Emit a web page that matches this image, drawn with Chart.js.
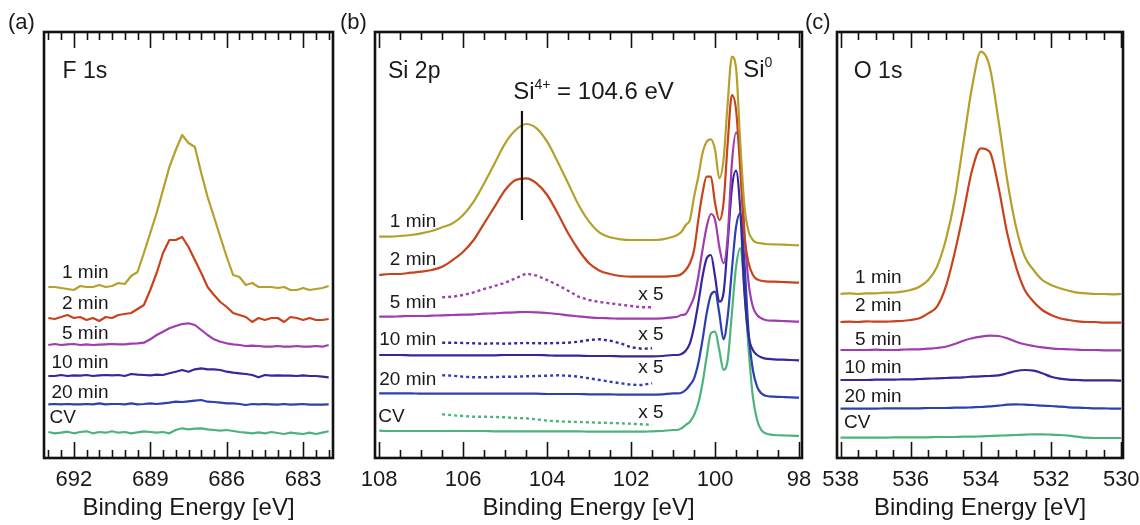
<!DOCTYPE html>
<html>
<head>
<meta charset="utf-8">
<script src="https://cdn.jsdelivr.net/npm/chart.js@4.4.1/dist/chart.umd.min.js"></script>
<style>
  html, body { margin: 0; padding: 0; background: #fff; }
  #wrap { position: relative; width: 1140px; height: 525px; overflow: hidden; }
  canvas { position: absolute; top: 0; }
</style>
</head>
<body>
<div id="wrap">
  <canvas id="panelF" width="340" height="525" style="left:0px"></canvas>
  <canvas id="panelSi" width="486" height="525" style="left:336px"></canvas>
  <canvas id="panelO" width="340" height="525" style="left:800px"></canvas>
</div>
<script>
// series names and colours (top to bottom)
const seriesNames = ['1 min', '2 min', '5 min', '10 min', '20 min', 'CV'];
const seriesColors = ['#b4a02a', '#c8421c', '#a03cb0', '#35289a', '#2d40b0', '#4cb47a'];

// ---- (a) F 1s ----
const fEnergy = [693,692.75,692.5,692.25,692,691.75,691.5,691.25,691,690.75,690.5,690.25,690,689.75,689.5,689.25,689,688.75,688.5,688.25,688,687.75,687.5,687.25,687,686.75,686.5,686.25,686,685.75,685.5,685.25,685,684.75,684.5,684.25,684,683.75,683.5,683.25,683,682.75,682.5,682.25,682];
const f1min = [171,171,170,169,168,172,171,171,173,171,172,175,174,182,186,205,225,245,268,291,308,323,315,311,285,261,241,221,201,183,181,173,175,171,171,171,170,171,168,168,170,168,169,170,172];
const f2min = [140,139,141,143,140,141,138,140,137,141,140,143,144,145,149,153,168,185,205,218,218,221,211,198,185,171,163,156,151,145,143,141,136,140,138,140,140,136,141,140,138,140,138,138,139];
const f5min = [113,114,113,113.7,114,113,113.7,113,113.3,113.7,114,113.7,113.7,114.3,114.7,115.3,118.7,123,126.3,129.7,132,134,134.7,133,128,123,118.7,116.3,114.7,113.7,113,112,112.3,112,111.3,111.3,112,111.3,111.3,112,111.3,111.3,112,111.3,113];
const f10min = [82,82,83,82,82.7,82.3,83,82,82.7,83,82.7,83,82,84,83.3,83,82.7,83.3,83,84.7,86.3,88,86.3,88.7,89.7,88.7,88.7,88,86.3,85.3,84.7,84,83,80.7,83,82.3,82.7,82.3,82.3,82,82.7,82,82,81.3,80.7];
const f20min = [53.7,54,53.7,54,53.7,53.7,54,53.7,54.7,53.7,54,54,53.7,54.7,53.7,54,54.7,54,54.7,55.3,56.3,56,56.7,57.3,58,56.3,56,55.3,54.7,54.7,54,53,54,53.7,54,53.7,53.3,54,53.3,53.7,54,53.3,53.3,53.3,53.7];
const fCV = [26,24.7,25.3,26.3,24.7,26,26.7,24.7,26,25.3,26.7,25.3,26,24.7,25.7,26.7,26,25.3,26,24.7,28,29.7,28.7,29.3,29.7,28.7,28,27.3,28,27,26,25.3,24.7,25.7,24.7,26,25,24,25.3,24.7,24,25.3,24,25.3,26.7];
const fTicks = [692, 689, 686, 683];

// ---- (b) Si 2p ----
const siEnergy = [108,107.75,107.5,107.25,107,106.75,106.5,106.25,106,105.75,105.5,105.25,105,104.75,104.5,104.25,104,103.75,103.5,103.25,103,102.75,102.5,102.25,102,101.75,101.5,101.25,101,
  100.9,100.8,100.7,100.6,100.5,100.4,100.3,100.2,100.1,100.0,99.9,99.8,99.7,99.6,99.5,99.4,99.3,99.2,99.1,99.0,98.9,98.8,
  98.6,98.4,98.2,98.0];
const si1min = [221.3,221.3,222,223,224.7,227,230.7,234.7,243,256.3,274.7,294.7,314.7,328,334,329.7,316.3,296.3,274.7,253,236.3,225.3,220.7,218.7,218,218,218,218.7,221.3,
  223,226.3,233,238,261.3,281.3,304.7,316.3,318.7,308,279.7,298,354.7,401.3,389.7,314.7,251.3,226.3,218,215.3,214.7,214,
  213.7,213.3,213,212.7];
const si2min = [183,184,184,185.3,186.3,188,191.3,198,206.3,218,234.7,251.3,268,278,279.7,274.7,263,244.7,224.7,208,194.7,187.3,184,182,181.3,181.3,181.3,181.3,182,
  182.3,184,188,194.7,208,238,264.7,281.3,281.3,254.7,238,254.7,314.7,363,348,288,221.3,194.7,183,178.7,177.3,176.7,
  176.3,176,175.7,175.3];
const si5min = [141.3,141.3,141.7,142,142,142.3,142.7,143,143.3,143.7,144.3,144.7,145.3,145.7,146,145.7,145,144,142.7,141.7,140.7,140,139.7,139.3,139.3,139.3,139.3,139.7,140.7,
  141.3,143,144,151.3,161.3,181.3,208,231.3,244,238,211.3,194.7,221.3,294.7,325.3,304.7,224.7,174.7,151.3,143,139.7,138,
  137.3,137,136.7,136.3];
const si10min = [103,103,103,102.7,102.7,102.7,102.7,102.7,102.7,102.7,102.7,102.7,103,103,103,103,102.7,102.3,102.3,102.3,102,102,102,101.7,101.7,101.7,101.7,102,103,
  103,104,107.3,114.7,131.3,154.7,181.3,199.7,203,181.3,156.3,164.7,214.7,269.7,287.3,248,164.7,121.3,108,103,100.7,99.3,
  98.7,98.3,98,97.7];
const si20min = [64.7,64.7,64.7,64.7,64.3,64.3,64.3,64.3,64.3,64.3,64.3,64.3,64.3,64.3,64.3,64.3,64,64,64,64,63.7,63.7,63.7,63.3,63.3,63.3,63.3,63.7,64.7,
  64.7,65.3,68,73,79.7,94.7,118,144.7,163,166.3,144.7,118.7,141.3,188,231.3,244.7,194.7,124.7,88,71.3,64.7,62.3,
  61.3,61,60.7,60.3];
const siCV = [27.3,27,27,27,27,27,27,27,27,27,27,26.7,26.7,26.7,26.7,26.7,26.7,26.7,26.7,26.7,26.3,26.3,26.3,26.3,26.3,26.3,26.7,27,28,
  28,29.7,33,36.3,43,54.7,74.7,101.3,124.7,126.3,108,88,98,144.7,191.3,209.7,168,108,61.3,38,28,24.7,
  23,22.7,22.3,22];
// x5 magnified traces of the Si4+ region
const x5Energy = [106.5,106.25,106,105.75,105.5,105.25,105,104.75,104.5,104.25,104,103.75,103.5,103.25,103,102.75,102.5,102.25,102,101.75,101.5];
const x5of5min = [160.7,161.3,163,165.7,169,172,175.3,179.7,184.5,182.3,178,173,167.3,161.3,158,156,154.7,153.3,152,150.7,150.7];
const x5of10min = [115.3,115.3,115,114.7,114.3,114.7,114.3,114.7,115,114.7,114.7,115,115.3,116.3,118,118.7,117.3,114.7,110.7,109.3,109.7];
const x5of20min = [82.7,82.3,81.3,80.7,80.7,81,81.3,81.3,81.7,82,82.3,82.7,82.3,81.3,79.7,78,76.3,74.7,73.3,73,74.7];
const x5ofCV = [43.7,42.7,42,41.3,41.3,41,40.7,40,39.7,38.7,37.3,36.7,36.3,36,35.7,35.3,35,34.7,34.3,33.7,33.3];
const siTicks = [108, 106, 104, 102, 100, 98];
const si4Energy = 104.6;

// ---- (c) O 1s ----
const oEnergy = [538,537.75,537.5,537.25,537,536.75,536.5,536.25,536,535.75,535.5,535.25,535,534.75,534.5,534.25,534,533.75,533.5,533.25,533,532.75,532.5,532.25,532,531.75,531.5,531.25,531,530.75,530.5,530.25,530];
const o1min = [164,164.7,164,164.7,164.7,165.3,165.3,166.3,168,171.3,178,191.3,218,258,314.7,371.3,406.3,391.3,338,278,231.3,201.3,188,178,173,169.7,167.3,165.3,164.7,164,164,163.7,164];
const o2min = [136,136.3,136,136.7,136.3,136.3,136.7,137,138,139.7,144.7,151.3,171.3,204.7,244.7,288,309.7,306.3,271.3,224.7,191.3,168,156.3,148,143,139.7,138,136.7,136,136,135.3,135.3,135.3];
const o5min = [108,108,108,108,108.3,108,108,108.3,108.7,108.7,109.3,110,111.3,114,117.3,119.7,121.3,122.3,122,119.7,116.3,113.7,112,110.7,109.7,109,108.7,108.3,108,108,107.7,107.7,107.7];
const o10min = [78,78,78,78,78.3,78.3,78.3,78.7,78.7,79,79.3,79.7,80,80.3,80.7,81.3,81.7,82,82.7,84.7,87,88,87.3,84.7,81.3,79.3,78.3,78,77.7,77.7,77.7,77.7,77.3];
const o20min = [49.3,49.3,49.3,49.3,49.3,49.7,49.7,49.7,49.7,49.7,50,50,50,50.3,50.3,50.7,51,51.7,52.3,53.3,53.7,53.3,53,52.3,52,51.3,50.7,50.3,50,49.7,49.7,49.3,49.3];
const oCV = [20.3,20.3,20.3,20.3,20.3,20.3,20.7,20.7,20.7,20.7,20.7,21,21,21,21.3,21.3,21.7,22,22.3,22.7,23,23.3,23.7,23.7,23.3,23,22.3,21.3,20.3,20,20,20,20];
const oTicks = [538, 536, 534, 532, 530];

const FONT = '"Liberation Sans", Arial, sans-serif';
const INK = '#1a1a1a';

function toPoints(xs, ys) {
  return xs.map((x, i) => ({ x: x, y: ys[i] }));
}

// frame, inward tick marks and text annotations
const framePlugin = {
  id: 'frame',
  afterDraw(chart, args, opts) {
    const { ctx, chartArea: a, scales: { x, y } } = chart;
    ctx.save();
    ctx.strokeStyle = '#111';
    ctx.lineWidth = 1.6;
    for (let v = Math.ceil(x.min * 2) / 2; v <= x.max + 1e-9; v += 0.5) {
      const px = Math.round(x.getPixelForValue(v)) + 0.5;
      const major = opts.major.some(m => Math.abs(m - v) < 1e-6);
      const len = major ? 16 : 8;
      ctx.beginPath();
      ctx.moveTo(px, a.top); ctx.lineTo(px, a.top + len);
      ctx.moveTo(px, a.bottom); ctx.lineTo(px, a.bottom - len);
      ctx.stroke();
    }
    ctx.lineWidth = 2.6;
    ctx.strokeRect(a.left, a.top, a.right - a.left, a.bottom - a.top);

    if (opts.marker) {
      const mx = x.getPixelForValue(opts.marker.at);
      ctx.lineWidth = 2.2;
      ctx.beginPath();
      ctx.moveTo(mx, y.getPixelForValue(opts.marker.from));
      ctx.lineTo(mx, y.getPixelForValue(opts.marker.to));
      ctx.stroke();
    }

    ctx.fillStyle = INK;
    ctx.textBaseline = 'middle';
    for (const t of opts.texts) {
      let px = t.canvas ? t.x : x.getPixelForValue(t.x);
      const py = t.canvas ? t.y : y.getPixelForValue(t.y);
      let width = 0;
      for (const [s, size] of t.parts) {
        ctx.font = size + 'px ' + FONT;
        width += ctx.measureText(s).width;
      }
      if (t.align === 'right') px -= width;
      ctx.textAlign = 'left';
      for (const [s, size, dy] of t.parts) {
        ctx.font = size + 'px ' + FONT;
        ctx.fillText(s, px, py + (dy || 0));
        px += ctx.measureText(s).width;
      }
    }
    ctx.restore();
  }
};

function seriesLabels(rightAt, cvAt, heights) {
  const out = seriesNames.slice(0, 5).map((n, i) => ({ x: rightAt, y: heights[i], align: 'right', parts: [[n, 19]] }));
  out.push({ x: cvAt, y: heights[5], align: 'left', parts: [['CV', 19]] });
  return out;
}

function makePanel(id, p) {
  const datasets = p.series.map((s, i) => ({
    data: toPoints(s.energy || p.energy, s.values),
    borderColor: seriesColors[s.color],
    borderWidth: s.dashed ? 2.4 : 2.2,
    borderDash: s.dashed ? [3, 3] : [],
    pointRadius: 0,
    fill: false,
    cubicInterpolationMode: p.smooth && !s.dashed ? 'monotone' : 'default',
    tension: 0,
    borderJoinStyle: 'round'
  }));
  new Chart(document.getElementById(id), {
    type: 'line',
    data: { datasets },
    plugins: [framePlugin],
    options: {
      responsive: false,
      animation: false,
      events: [],
      layout: { padding: { left: p.padLeft, right: p.padRight, top: 32, bottom: 0 } },
      plugins: {
        legend: { display: false },
        tooltip: { enabled: false },
        frame: { major: p.ticks, texts: p.texts, marker: p.marker }
      },
      scales: {
        x: {
          type: 'linear',
          reverse: true,
          min: p.min,
          max: p.max,
          grid: { display: false, drawTicks: false },
          border: { display: false },
          afterBuildTicks: s => { s.ticks = p.ticks.map(v => ({ value: v })); },
          afterFit: s => { s.height = 67; s.paddingLeft = 0; s.paddingRight = 0; },
          ticks: {
            autoSkip: false, maxRotation: 0, padding: 9, color: INK,
            font: { family: FONT, size: 22 },
            callback: v => String(v)
          },
          title: {
            display: true, text: 'Binding Energy [eV]', color: INK,
            font: { family: FONT, size: 24 }, padding: { top: 0, bottom: 2 }
          }
        },
        y: { display: false, min: 0, max: 426 }
      }
    }
  });
}

makePanel('panelF', {
  energy: fEnergy, min: 681.83, max: 693.17, padLeft: 44, padRight: 7, ticks: fTicks,
  series: [
    { values: f1min, color: 0 }, { values: f2min, color: 1 }, { values: f5min, color: 2 },
    { values: f10min, color: 3 }, { values: f20min, color: 4 }, { values: fCV, color: 5 }
  ],
  texts: [
    { canvas: true, x: 8, y: 23, parts: [['(a)', 22]] },
    { x: 692.44, y: 386, parts: [['F 1s', 23]] }
  ].concat(seriesLabels(690.64, 692.95, [185, 154, 124, 95, 65, 40]))
});

makePanel('panelSi', {
  energy: siEnergy, min: 97.93, max: 108.1, padLeft: 39, padRight: 20, ticks: siTicks, smooth: true,
  series: [
    { values: si1min, color: 0 }, { values: si2min, color: 1 },
    { values: x5of5min, energy: x5Energy, color: 2, dashed: true }, { values: si5min, color: 2 },
    { values: x5of10min, energy: x5Energy, color: 3, dashed: true }, { values: si10min, color: 3 },
    { values: x5of20min, energy: x5Energy, color: 4, dashed: true }, { values: si20min, color: 4 },
    { values: x5ofCV, energy: x5Energy, color: 5, dashed: true }, { values: siCV, color: 5 }
  ],
  marker: { at: si4Energy, from: 238, to: 347 },
  texts: [
    { canvas: true, x: 4, y: 23, parts: [['(b)', 22]] },
    { x: 107.79, y: 386, parts: [['Si 2p', 23]] },
    { x: 104.81, y: 366, parts: [['Si', 24], ['4+', 14, -7], [' = 104.6 eV', 24]] },
    { x: 99.33, y: 388, parts: [['Si', 24], ['0', 14, -7]] },
    { x: 101.83, y: 163, parts: [['x 5', 19]] },
    { x: 101.83, y: 123, parts: [['x 5', 19]] },
    { x: 101.83, y: 90, parts: [['x 5', 19]] },
    { x: 101.83, y: 45, parts: [['x 5', 19]] }
  ].concat(seriesLabels(106.64, 108.02, [236.3, 198, 155, 118, 78, 41]))
});

makePanel('panelO', {
  energy: oEnergy, min: 529.95, max: 538.1, padLeft: 37, padRight: 17, ticks: oTicks, smooth: true,
  series: [
    { values: o1min, color: 0 }, { values: o2min, color: 1 }, { values: o5min, color: 2 },
    { values: o10min, color: 3 }, { values: o20min, color: 4 }, { values: oCV, color: 5 }
  ],
  texts: [
    { canvas: true, x: 5, y: 23, parts: [['(c)', 22]] },
    { x: 537.62, y: 386, parts: [['O 1s', 23]] }
  ].concat(seriesLabels(536.26, 537.9, [180, 152, 118, 90, 61, 35]))
});
</script>
</body>
</html>
